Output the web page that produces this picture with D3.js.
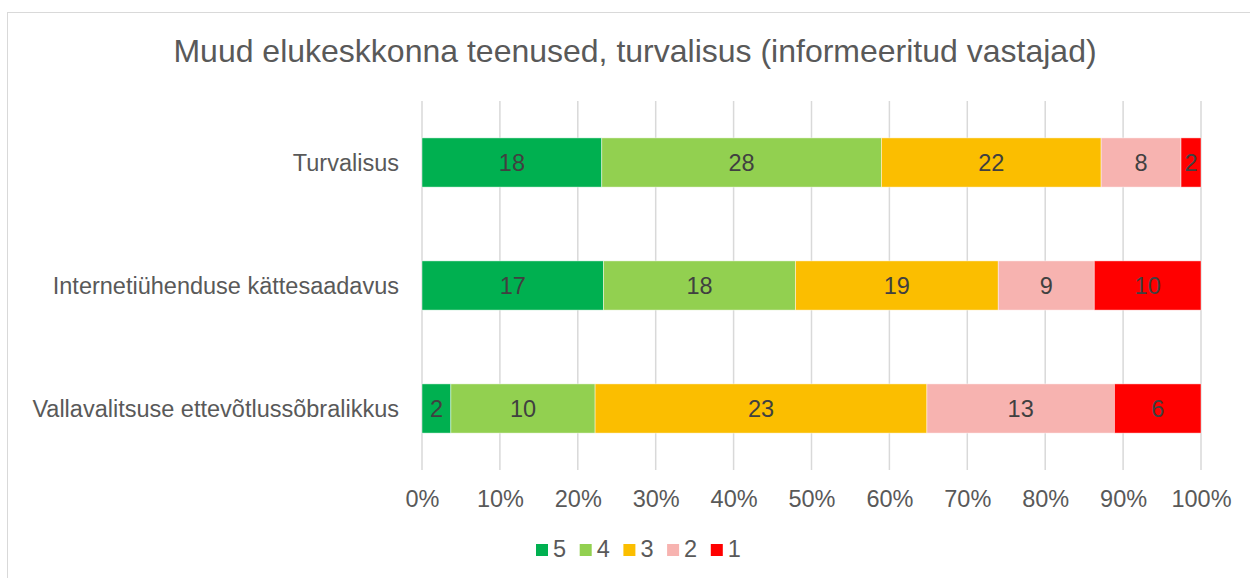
<!DOCTYPE html>
<html>
<head>
<meta charset="utf-8">
<script src="https://cdn.jsdelivr.net/npm/d3@7"></script>
<style>
html,body{margin:0;padding:0;background:#fff;}
text{font-family:"Liberation Sans",Arial,sans-serif;}
</style>
</head>
<body>
<svg id="chart" width="1250" height="578"></svg>
<script>
const title = "Muud elukeskkonna teenused, turvalisus (informeeritud vastajad)";
const categories = ["Turvalisus", "Internetiühenduse kättesaadavus", "Vallavalitsuse ettevõtlussõbralikkus"];
const seriesNames = ["5", "4", "3", "2", "1"];
const seriesColors = ["#00B050", "#92D050", "#FBBE00", "#F7B3B0", "#FF0000"];
const values5 = [18, 17, 2];
const values4 = [28, 18, 10];
const values3 = [22, 19, 23];
const values2 = [8, 9, 13];
const values1 = [2, 10, 6];
const tickValues = [0, 0.1, 0.2, 0.3, 0.4, 0.5, 0.6, 0.7, 0.8, 0.9, 1.0];

const seriesValues = [values5, values4, values3, values2, values1];
const svg = d3.select("#chart");
const W = 1250, H = 578;
const margin = {left: 422, right: 49, top: 101, bottom: 108};
const FS = 23.5;

// border
svg.append("rect").attr("x", 7.5).attr("y", 12.5).attr("width", W).attr("height", H)
  .attr("fill", "none").attr("stroke", "#d9d9d9").attr("stroke-width", 1);

const x = d3.scaleLinear().domain([0, 1]).range([margin.left, W - margin.right]);
const y = d3.scaleBand().domain(categories).range([margin.top, H - margin.bottom]).paddingInner(0.6).paddingOuter(0.3);

// title
svg.append("text").attr("x", 635).attr("y", 62).attr("text-anchor", "middle")
  .attr("font-size", 32).attr("fill", "#595959").text(title);

// gridlines
svg.append("g").selectAll("line").data(tickValues).join("line")
  .attr("x1", d => x(d)).attr("x2", d => x(d))
  .attr("y1", margin.top).attr("y2", H - margin.bottom)
  .attr("stroke", "#d9d9d9").attr("stroke-width", 1.5);

// x axis labels
const xAxis = d3.axisBottom(x).tickValues(tickValues).tickFormat(d3.format(".0%")).tickSize(0).tickPadding(0);
const gx = svg.append("g").attr("transform", `translate(0,${H - margin.bottom})`).call(xAxis);
gx.select(".domain").remove();
gx.selectAll("text").attr("font-size", FS).attr("fill", "#595959")
  .attr("font-family", '"Liberation Sans",Arial,sans-serif').attr("dy", null).attr("y", 37);

// y axis labels
const yAxis = d3.axisLeft(y).tickSize(0).tickPadding(23);
const gy = svg.append("g").attr("transform", `translate(${margin.left},0)`).call(yAxis);
gy.select(".domain").remove();
gy.selectAll("text").attr("font-size", FS).attr("fill", "#595959")
  .attr("font-family", '"Liberation Sans",Arial,sans-serif').attr("dy", "0.35em");

// stacked data
const rows = categories.map((c, i) => {
  const o = {category: c};
  seriesNames.forEach((s, j) => o[s] = seriesValues[j][i]);
  return o;
});
const stack = d3.stack().keys(seriesNames).offset(d3.stackOffsetExpand);
const stacked = stack(rows);

const layers = svg.append("g").selectAll("g").data(stacked).join("g")
  .attr("fill", (d, i) => seriesColors[i]);
layers.selectAll("rect").data(d => d).join("rect")
  .attr("x", d => x(d[0])).attr("width", d => x(d[1]) - x(d[0]))
  .attr("y", d => y(d.data.category)).attr("height", y.bandwidth())
  .attr("stroke", "rgba(255,255,255,0.6)").attr("stroke-width", 0.75);

// data labels
const lbl = svg.append("g");
stacked.forEach((layer, i) => {
  layer.forEach(d => {
    lbl.append("text")
      .attr("x", (x(d[0]) + x(d[1])) / 2)
      .attr("y", y(d.data.category) + y.bandwidth() / 2)
      .attr("dy", "0.35em").attr("text-anchor", "middle")
      .attr("font-size", FS).attr("fill", "#404040")
      .text(d.data[layer.key]);
  });
});

// legend
const legend = svg.append("g");
const legX0 = 536, legStep = 43.7;
seriesNames.forEach((s, i) => {
  const g = legend.append("g").attr("transform", `translate(${legX0 + i * legStep},544)`);
  g.append("rect").attr("width", 12).attr("height", 12).attr("fill", seriesColors[i]);
  g.append("text").attr("x", 17).attr("y", 13).attr("font-size", FS).attr("fill", "#595959").text(s);
});
</script>
</body>
</html>
